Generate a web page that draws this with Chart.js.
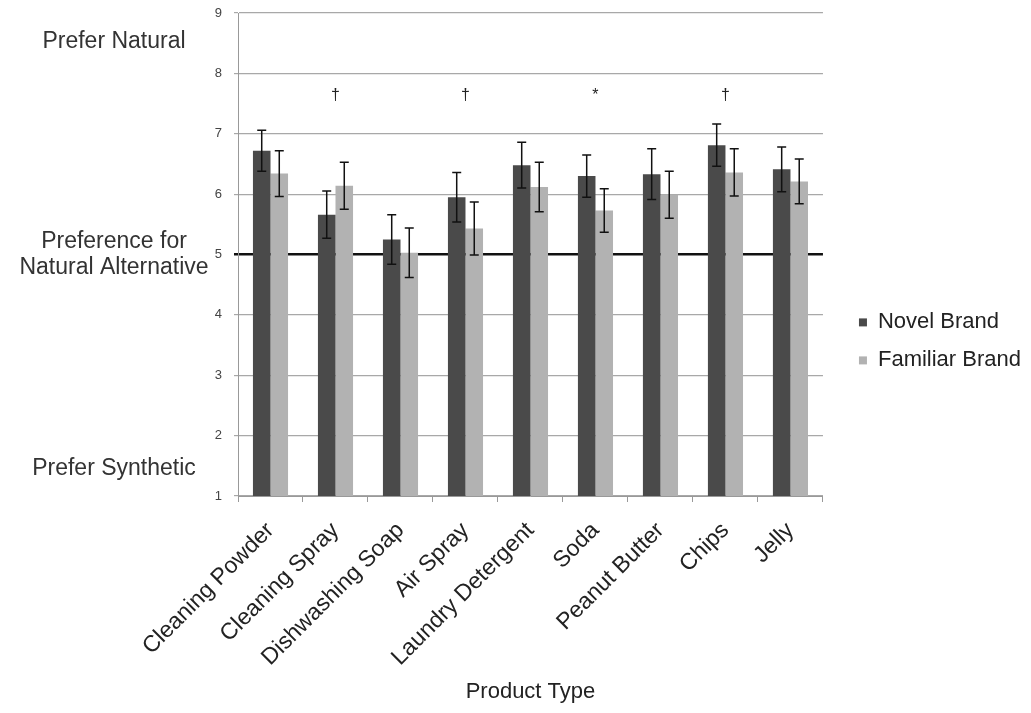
<!DOCTYPE html>
<html>
<head>
<meta charset="utf-8">
<script src="https://cdn.jsdelivr.net/npm/chart.js@4.4.1/dist/chart.umd.min.js"></script>
<style>
  html, body { margin: 0; padding: 0; background: #fff; }
  #wrap { width: 1031px; height: 713px; }
</style>
</head>
<body>
<div id="wrap"><canvas id="myBarChart"></canvas></div>
<script>
// Data
var categories = ["Cleaning Powder", "Cleaning Spray", "Dishwashing Soap", "Air Spray",
  "Laundry Detergent", "Soda", "Peanut Butter", "Chips", "Jelly"];
var novelBrand = [6.72, 5.66, 5.25, 5.95, 6.48, 6.30, 6.33, 6.81, 6.41];
var familiarBrand = [6.34, 6.14, 5.03, 5.43, 6.12, 5.73, 5.99, 6.36, 6.21];
var novelErr = [0.34, 0.39, 0.41, 0.41, 0.38, 0.35, 0.42, 0.35, 0.37];
var familiarErr = [0.38, 0.39, 0.41, 0.44, 0.41, 0.36, 0.39, 0.39, 0.37];
var sigMarks = ["", "\u2020", "", "\u2020", "", "*", "", "\u2020", ""];
var yMin = 1, yMax = 9, yStep = 1;
var sideLabels = [
  { value: 8.52, lines: ["Prefer Natural"] },
  { value: 5.0, lines: ["Preference for", "Natural Alternative"] },
  { value: 1.45, lines: ["Prefer Synthetic"] }
];

var FONT = "'Liberation Sans', Arial, Helvetica, sans-serif";

// error bars + significance marks + left side captions
var errorBarPlugin = {
  id: "errorBars",
  afterDatasetsDraw: function (chart) {
    var ctx = chart.ctx;
    var y = chart.scales.y;
    var errs = [novelErr, familiarErr];
    ctx.save();
    ctx.strokeStyle = "#111";
    ctx.lineWidth = 1.5;
    chart.data.datasets.forEach(function (ds, i) {
      var meta = chart.getDatasetMeta(i);
      meta.data.forEach(function (bar, j) {
        var v = ds.data[j], e = errs[i][j];
        var top = y.getPixelForValue(v + e);
        var bot = y.getPixelForValue(v - e);
        ctx.beginPath();
        ctx.moveTo(bar.x, top); ctx.lineTo(bar.x, bot);
        ctx.moveTo(bar.x - 4.5, top); ctx.lineTo(bar.x + 4.5, top);
        ctx.moveTo(bar.x - 4.5, bot); ctx.lineTo(bar.x + 4.5, bot);
        ctx.stroke();
      });
    });
    var x = chart.scales.x;
    ctx.fillStyle = "#222";
    ctx.font = "16px " + FONT;
    ctx.textAlign = "center";
    ctx.textBaseline = "middle";
    sigMarks.forEach(function (m, j) {
      if (m) ctx.fillText(m, x.getPixelForValue(j), y.getPixelForValue(7.64));
    });
    ctx.restore();
  },
  afterDraw: function (chart) {
    var ctx = chart.ctx;
    var y = chart.scales.y;
    ctx.save();
    ctx.fillStyle = "#333";
    ctx.font = "23px " + FONT;
    ctx.textAlign = "center";
    ctx.textBaseline = "middle";
    sideLabels.forEach(function (s) {
      var cy = y.getPixelForValue(s.value);
      var lh = 26;
      var start = cy - (s.lines.length - 1) * lh / 2;
      s.lines.forEach(function (t, k) {
        ctx.fillText(t, 114, start + k * lh);
      });
    });
    ctx.restore();
  }
};

var ctx = document.getElementById("myBarChart").getContext("2d");
var myBarChart = new Chart(ctx, {
  type: "bar",
  data: {
    labels: categories,
    datasets: [
      {
        label: "Novel Brand",
        backgroundColor: "#4a4a4a",
        data: novelBrand,
        categoryPercentage: 0.54,
        barPercentage: 1.0
      },
      {
        label: "Familiar Brand",
        backgroundColor: "#b2b2b2",
        data: familiarBrand,
        categoryPercentage: 0.54,
        barPercentage: 1.0
      }
    ]
  },
  options: {
    responsive: true,
    maintainAspectRatio: false,
    animation: false,
    layout: { autoPadding: false, padding: { top: 13, right: 0, left: 0, bottom: 0 } },
    scales: {
      x: {
        afterFit: function (scale) { scale.height = 217; },
        grid: { drawOnChartArea: false, color: "#999", tickLength: 6, offset: true },
        border: { color: "#999" },
        ticks: {
          color: "#222",
          font: { family: FONT, size: 23 },
          minRotation: 45,
          maxRotation: 45,
          padding: 15
        },
        title: {
          display: true,
          text: "Product Type",
          color: "#222",
          font: { family: FONT, size: 22 },
          padding: { top: 0, bottom: 8 }
        }
      },
      y: {
        min: yMin,
        max: yMax,
        afterFit: function (scale) {
          scale.width = 238;
          scale.paddingTop = 0;
          scale.paddingBottom = 0;
        },
        ticks: {
          stepSize: yStep,
          color: "#444",
          font: { family: FONT, size: 13 },
          padding: 12
        },
        border: { color: "#999" },
        grid: {
          tickLength: 4,
          color: function (c) { return c.tick && c.tick.value === 5 ? "#111" : "#a8a8a8"; },
          lineWidth: function (c) { return c.tick && c.tick.value === 5 ? 2.5 : 1.2; }
        }
      },
      // empty spacer between plot and legend
      gap: {
        position: "right",
        afterFit: function (scale) {
          scale.width = 20;
          scale.paddingTop = 0;
          scale.paddingBottom = 0;
        },
        grid: { display: false },
        border: { display: false },
        ticks: { display: false }
      }
    },
    plugins: {
      legend: {
        position: "right",
        align: "start",
        maxWidth: 260,
        title: { display: true, text: " ", font: { size: 12 }, padding: { top: 268, bottom: 0 } },
        labels: {
          color: "#222",
          font: { family: FONT, size: 22 },
          boxWidth: 8,
          boxHeight: 8,
          padding: 16
        }
      },
      tooltip: { enabled: false }
    }
  },
  plugins: [errorBarPlugin]
});
</script>
</body>
</html>
